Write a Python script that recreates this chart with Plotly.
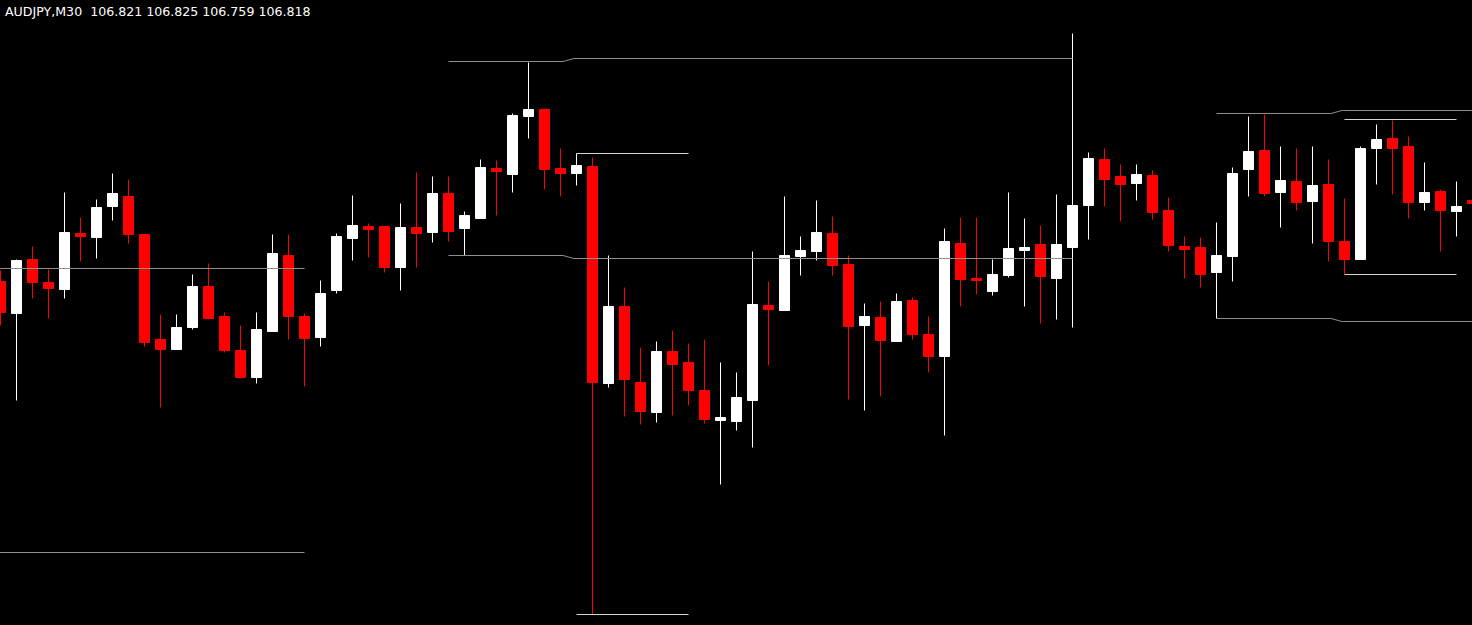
import plotly.graph_objects as go

SYMBOL = "AUDJPY"
TIMEFRAME = "M30"

# ---- OHLC data (one bar per 30 minutes, oldest first) ----
opens = [106.740, 106.708, 106.762, 106.739, 106.732, 106.788, 106.784, 106.815, 106.825, 106.787,
         106.682, 106.672, 106.694, 106.735, 106.705, 106.671, 106.644, 106.690, 106.766, 106.705,
         106.684, 106.731, 106.783, 106.795, 106.795, 106.754, 106.794, 106.789, 106.828, 106.793,
         106.803, 106.853, 106.847, 106.905, 106.912, 106.853, 106.848, 106.855, 106.638, 106.715,
         106.639, 106.609, 106.670, 106.659, 106.631, 106.601, 106.600, 106.621, 106.716, 106.711,
         106.765, 106.770, 106.788, 106.757, 106.696, 106.704, 106.680, 106.721, 106.687, 106.665,
         106.778, 106.743, 106.730, 106.746, 106.771, 106.777, 106.743, 106.774, 106.816, 106.862,
         106.845, 106.838, 106.846, 106.811, 106.775, 106.774, 106.749, 106.765, 106.852, 106.871,
         106.829, 106.840, 106.820, 106.837, 106.780, 106.762, 106.873, 106.883, 106.875, 106.819,
         106.830, 106.810, 106.821]
highs = [106.751, 106.762, 106.775, 106.752, 106.829, 106.804, 106.822, 106.848, 106.842, 106.787,
         106.707, 106.707, 106.747, 106.758, 106.709, 106.696, 106.709, 106.787, 106.787, 106.708,
         106.741, 106.788, 106.826, 106.798, 106.795, 106.818, 106.849, 106.845, 106.845, 106.810,
         106.862, 106.861, 106.908, 106.959, 106.913, 106.873, 106.868, 106.864, 106.766, 106.734,
         106.674, 106.680, 106.691, 106.678, 106.682, 106.659, 106.649, 106.770, 106.740, 106.825,
         106.785, 106.821, 106.805, 106.766, 106.718, 106.720, 106.728, 106.724, 106.705, 106.793,
         106.804, 106.804, 106.762, 106.829, 106.803, 106.796, 106.827, 106.988, 106.869, 106.873,
         106.857, 106.857, 106.851, 106.824, 106.785, 106.784, 106.799, 106.854, 106.905, 106.907,
         106.875, 106.873, 106.875, 106.862, 106.823, 106.875, 106.897, 106.901, 106.885, 106.859,
         106.832, 106.840, 106.825]
lows = [106.696, 106.621, 106.723, 106.703, 106.723, 106.760, 106.763, 106.801, 106.778, 106.675,
        106.614, 106.672, 106.692, 106.702, 106.669, 106.643, 106.638, 106.690, 106.682, 106.635,
        106.675, 106.728, 106.761, 106.764, 106.749, 106.731, 106.754, 106.779, 106.780, 106.766,
        106.803, 106.806, 106.829, 106.883, 106.832, 106.825, 106.836, 106.407, 106.634, 106.605,
        106.597, 106.599, 106.606, 106.616, 106.598, 106.537, 106.591, 106.574, 106.656, 106.711,
        106.746, 106.761, 106.746, 106.622, 106.611, 106.625, 106.680, 106.682, 106.649, 106.586,
        106.715, 106.727, 106.726, 106.744, 106.715, 106.698, 106.702, 106.694, 106.782, 106.815,
        106.800, 106.821, 106.802, 106.770, 106.743, 106.734, 106.703, 106.740, 106.825, 106.825,
        106.794, 106.811, 106.778, 106.760, 106.747, 106.762, 106.837, 106.827, 106.803, 106.811,
        106.770, 106.785, 106.759]
closes = [106.709, 106.761, 106.739, 106.733, 106.789, 106.785, 106.814, 106.828, 106.787, 106.679,
          106.672, 106.694, 106.735, 106.703, 106.671, 106.644, 106.692, 106.768, 106.705, 106.683,
          106.728, 106.785, 106.796, 106.792, 106.754, 106.794, 106.788, 106.828, 106.790, 106.806,
          106.854, 106.850, 106.906, 106.912, 106.852, 106.848, 106.856, 106.639, 106.715, 106.642,
          106.610, 106.670, 106.657, 106.631, 106.602, 106.604, 106.624, 106.717, 106.712, 106.766,
          106.771, 106.789, 106.756, 106.695, 106.705, 106.681, 106.720, 106.687, 106.665, 106.780,
          106.742, 106.741, 106.747, 106.773, 106.774, 106.745, 106.777, 106.816, 106.863, 106.842,
          106.837, 106.847, 106.809, 106.776, 106.772, 106.747, 106.766, 106.848, 106.870, 106.828,
          106.841, 106.819, 106.836, 106.780, 106.762, 106.873, 106.882, 106.873, 106.819, 106.829,
          106.811, 106.815, 106.818]
bars = list(range(len(opens)))

# ---- session high / low level lines (bar positions, prices) ----
lvl1_x = [-1, 19]
lvl1_hi = [106.753, 106.753]
lvl1_lo = [106.469, 106.469]

lvl2_x = [28, 35.16, 35.84, 67]
lvl2_hi = [106.960, 106.960, 106.963, 106.963]
lvl2_lo = [106.766, 106.766, 106.763, 106.763]

lvl3_x = [36, 43]
lvl3_hi = [106.868, 106.868]
lvl3_lo = [106.407, 106.407]

lvl4_x = [76, 83.16, 83.84, 95]
lvl4_hi = [106.908, 106.908, 106.911, 106.911]
lvl4_lo = [106.703, 106.703, 106.700, 106.700]

lvl5_x = [84, 91]
lvl5_hi = [106.902, 106.902]
lvl5_lo = [106.747, 106.747]

GREY = "#8e8e8e"
LIGHT = "#d4d4d4"

fig = go.Figure()

fig.add_trace(go.Candlestick(
    x=bars, open=opens, high=highs, low=lows, close=closes,
    increasing=dict(line=dict(color="#ffffff", width=1), fillcolor="#ffffff"),
    decreasing=dict(line=dict(color="#ff0000", width=1), fillcolor="#ff0000"),
    whiskerwidth=0, hoverinfo="skip", showlegend=False,
))

for xs, ys, col in [
    (lvl1_x, lvl1_hi, GREY), (lvl1_x, lvl1_lo, GREY),
    (lvl2_x, lvl2_hi, GREY), (lvl2_x, lvl2_lo, GREY),
    (lvl3_x, lvl3_hi, LIGHT), (lvl3_x, lvl3_lo, LIGHT),
    (lvl4_x, lvl4_hi, GREY), (lvl4_x, lvl4_lo, GREY),
    (lvl5_x, lvl5_hi, LIGHT), (lvl5_x, lvl5_lo, LIGHT),
]:
    fig.add_trace(go.Scatter(x=xs, y=ys, mode="lines",
                             line=dict(color=col, width=1),
                             hoverinfo="skip", showlegend=False))

header = "%s,%s\u00a0\u00a0%.3f %.3f %.3f %.3f" % (
    SYMBOL, TIMEFRAME, opens[-1], highs[-1], lows[-1], closes[-1])

fig.add_annotation(
    text=header, xref="paper", yref="paper", x=0, y=1,
    xanchor="left", yanchor="top", xshift=3, yshift=-2, showarrow=False,
    font=dict(family="DejaVu Sans", size=12.6, color="#ffffff"),
)

fig.update_layout(
    width=1472, height=625,
    margin=dict(l=0, r=0, t=0, b=0),
    paper_bgcolor="#000000", plot_bgcolor="#000000",
    boxgap=0.375, boxgroupgap=0,
    showlegend=False,
    xaxis=dict(range=[-0.03125, 91.96875], visible=False, rangeslider=dict(visible=False),
               fixedrange=True),
    yaxis=dict(range=[107.0215 - 0.625, 107.0215], visible=False, fixedrange=True),
)

fig.write_html(
    "out.html",
    config={"displayModeBar": False},
    post_script="document.body.style.margin='0';document.body.style.background='#000';"
                "document.body.style.overflow='hidden';",
)
